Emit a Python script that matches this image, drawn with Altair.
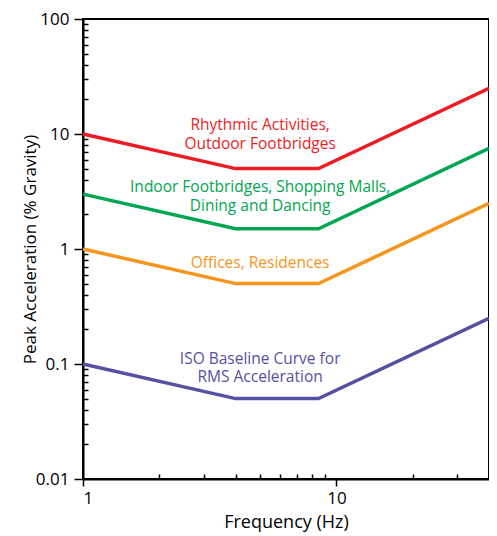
import altair as alt
import pandas as pd

# ---- data ----
series = ["Rhythmic", "Indoor", "Offices", "ISO"]
colors = ["#ED1C24", "#00A651", "#F7941D", "#5551A2"]
freq = [1, 4, 8.5, 40]
red = [10, 5, 5, 25]
green = [3, 1.5, 1.5, 7.5]
orange = [1, 0.5, 0.5, 2.5]
blue = [0.1, 0.05, 0.05, 0.25]

label_text = ["Rhythmic Activities,", "Outdoor Footbridges",
              "Indoor Footbridges, Shopping Malls,", "Dining and Dancing",
              "Offices, Residences",
              "ISO Baseline Curve for", "RMS Acceleration"]
label_series = ["Rhythmic", "Rhythmic", "Indoor", "Indoor", "Offices", "ISO", "ISO"]
label_x = [5, 5, 5, 5, 5, 5, 5]
label_y = [10.9, 7.45, 3.13, 2.14, 0.684, 0.101, 0.0699]

x_major = [1, 10]
x_minor = [2, 3, 4, 5, 6, 7, 8, 9, 20, 30]
y_major = [0.01, 0.1, 1, 10, 100]
y_minor = [0.02, 0.03, 0.04, 0.05, 0.06, 0.07, 0.08, 0.09,
           0.2, 0.3, 0.4, 0.5, 0.6, 0.7, 0.8, 0.9,
           2, 3, 4, 5, 6, 7, 8, 9,
           20, 30, 40, 50, 60, 70, 80, 90]

rows = []
for s, vals in zip(series, [red, green, orange, blue]):
    for f, v in zip(freq, vals):
        rows.append({"series": s, "freq": f, "acc": v})
lines_df = pd.DataFrame(rows)
labels_df = pd.DataFrame({"text": label_text, "series": label_series,
                          "freq": label_x, "acc": label_y})

FONT = "Open Sans"
color = alt.Color("series:N", scale=alt.Scale(domain=series, range=colors), legend=None)

def major_test(vals):
    return "indexof([" + ",".join(str(v) for v in vals) + "], datum.value) >= 0"

x_axis = alt.Axis(
    values=x_major + x_minor, format="~g",
    labelExpr=major_test(x_major) + " ? datum.label : ''",
    tickSize={"expr": major_test(x_major) + " ? 7 : -5"},
    title="Frequency (Hz)", titleX=203, titleY=43, titleBaseline="middle",
    titleAlign="center", titleFontSize=18, labelPadding=4,
)
y_axis = alt.Axis(
    values=y_major + y_minor, format="~g",
    labelExpr=major_test(y_major) + " ? datum.label : ''",
    tickSize={"expr": major_test(y_major) + " ? 9 : -5"},
    title="Peak Acceleration (% Gravity)", titleX=-53, titleY=230,
    titleAngle=270, titleBaseline="middle", titleAlign="center", labelPadding=5,
)

x_enc = alt.X("freq:Q", scale=alt.Scale(type="log", domain=[1, 40], nice=False), axis=x_axis)
y_enc = alt.Y("acc:Q", scale=alt.Scale(type="log", domain=[0.01, 100], nice=False), axis=y_axis)

lines = alt.Chart(lines_df).mark_line(strokeWidth=3.5, strokeCap="butt").encode(
    x=x_enc, y=y_enc, color=color, detail="series:N", order="freq:Q"
)
texts = alt.Chart(labels_df).mark_text(
    font=FONT, fontSize=15.5, align="center", baseline="alphabetic"
).encode(x="freq:Q", y="acc:Q", text="text:N", color=color)

chart = alt.layer(lines, texts).properties(
    width=406, height=460,
    autosize=alt.AutoSizeParams(type="none"),
    padding={"left": 75, "top": 11, "right": 0, "bottom": 56},
).configure_view(
    stroke="black", strokeWidth=2
).configure_axis(
    grid=False, domainColor="black", domainWidth=2, tickColor="black", tickWidth=1.5,
    labelFont=FONT, labelFontSize=17, labelColor="black",
    titleFont=FONT, titleFontSize=17, titleFontWeight="normal", titleColor="black",
)

chart.save("out.html", embed_options={"renderer": "svg", "actions": False})
